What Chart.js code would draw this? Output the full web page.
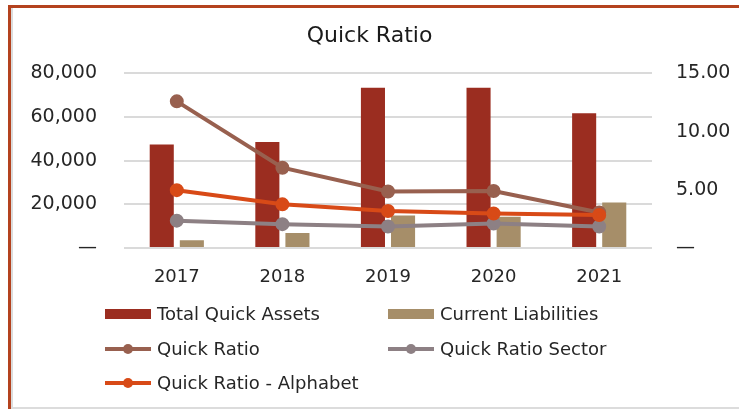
<!DOCTYPE html>
<html>
<head>
<meta charset="utf-8">
<script src="https://cdn.jsdelivr.net/npm/chart.js@4"></script>
<style>
  html, body { margin: 0; padding: 0; background: #fff; }
  #wrap { position: absolute; left: 0; top: 0; width: 739px; height: 409px; }
  .edge { position: absolute; }
</style>
</head>
<body>
<div id="wrap"><canvas id="myChart" width="739" height="409"></canvas></div>
<div class="edge" style="left:8px;top:5px;width:3px;height:404px;background:#B4421E"></div>
<div class="edge" style="left:8px;top:5px;width:731px;height:3px;background:#B4421E"></div>
<div class="edge" style="left:11px;top:8px;width:2px;height:401px;background:#DCDCDC"></div>
<div class="edge" style="left:11px;top:407px;width:728px;height:2px;background:#DCDCDC"></div>
<script>
var years = ["2017", "2018", "2019", "2020", "2021"];
var totalQuickAssets = [47400, 48600, 73400, 73400, 61700];
var currentLiabilities = [3500, 6900, 14900, 14300, 20900];
var quickRatio = [12.6, 6.9, 4.85, 4.9, 3.05];
var quickRatioSector = [2.35, 2.05, 1.85, 2.1, 1.85];
var quickRatioAlphabet = [4.97, 3.75, 3.18, 2.97, 2.83];
var leftTicks = [0, 20000, 40000, 60000, 80000];
var rightTicks = [0, 5, 10, 15];

var fontName = "'DejaVu Sans', sans-serif";
var textColor = "#262626";

// legend drawn in two columns like the original
var legendSlots = [
  { x: 105, y: 314 },
  { x: 388, y: 314 },
  { x: 105, y: 349 },
  { x: 388, y: 349 },
  { x: 105, y: 383 }
];

var gridLegend = {
  id: "gridLegend",
  afterDraw: function (chart) {
    var ctx = chart.ctx;
    ctx.save();
    chart.data.datasets.forEach(function (ds, i) {
      var slot = legendSlots[i];
      if (ds.type === "bar") {
        ctx.fillStyle = ds.backgroundColor;
        ctx.fillRect(slot.x, slot.y - 5, 46, 10);
      } else {
        ctx.strokeStyle = ds.borderColor;
        ctx.lineWidth = 4;
        ctx.beginPath();
        ctx.moveTo(slot.x, slot.y);
        ctx.lineTo(slot.x + 46, slot.y);
        ctx.stroke();
        ctx.fillStyle = ds.borderColor;
        ctx.beginPath();
        ctx.arc(slot.x + 23, slot.y, 5, 0, Math.PI * 2);
        ctx.fill();
      }
      ctx.fillStyle = textColor;
      ctx.font = "18px " + fontName;
      ctx.textBaseline = "middle";
      ctx.textAlign = "left";
      ctx.fillText(ds.label, slot.x + 52, slot.y + 1);
    });
    ctx.restore();
  }
};

var ctx = document.getElementById("myChart");
var myChart = new Chart(ctx, {
  type: "bar",
  data: {
    labels: years,
    datasets: [{
      type: "bar",
      label: "Total Quick Assets",
      data: totalQuickAssets,
      backgroundColor: "#9B2D20",
      yAxisID: "y",
      order: 10
    },
    {
      type: "bar",
      label: "Current Liabilities",
      data: currentLiabilities,
      backgroundColor: "#A68E69",
      yAxisID: "y",
      order: 11
    },
    {
      type: "line",
      label: "Quick Ratio",
      data: quickRatio,
      borderColor: "#98604F",
      backgroundColor: "#98604F",
      borderWidth: 4,
      pointRadius: 5,
      yAxisID: "y1",
      order: 2
    },
    {
      type: "line",
      label: "Quick Ratio Sector",
      data: quickRatioSector,
      borderColor: "#8D8084",
      backgroundColor: "#8D8084",
      borderWidth: 4,
      pointRadius: 5,
      yAxisID: "y1",
      order: 3
    },
    {
      type: "line",
      label: "Quick Ratio - Alphabet",
      data: quickRatioAlphabet,
      borderColor: "#D84A17",
      backgroundColor: "#D84A17",
      borderWidth: 4,
      pointRadius: 5,
      yAxisID: "y1",
      order: 1
    }]
  },
  options: {
    responsive: false,
    animation: false,
    devicePixelRatio: 1,
    layout: { padding: 0 },
    datasets: {
      bar: { categoryPercentage: 0.57, barPercentage: 0.8 }
    },
    elements: { line: { tension: 0 } },
    plugins: {
      legend: { display: false },
      tooltip: { enabled: false },
      title: {
        display: true,
        text: "Quick Ratio",
        color: "#1a1a1a",
        font: { family: fontName, size: 22, weight: "normal" },
        padding: { top: 23, bottom: 24 }
      }
    },
    scales: {
      x: {
        grid: { display: false },
        border: { display: false },
        ticks: {
          color: textColor,
          font: { family: fontName, size: 18 },
          padding: 11
        },
        afterFit: function (scale) { scale.height = 161; }
      },
      y: {
        position: "left",
        min: 0,
        max: 80000,
        afterBuildTicks: function (scale) {
          scale.ticks = leftTicks.map(function (v) { return { value: v }; });
        },
        grid: { color: "#DADADA", lineWidth: 2, drawTicks: false },
        border: { display: false },
        ticks: {
          color: textColor,
          font: { family: fontName, size: 19 },
          padding: 27,
          callback: function (v) { return v === 0 ? "\u2014" : v.toLocaleString("en-US"); }
        },
        afterFit: function (scale) { scale.width = 124; }
      },
      y1: {
        position: "right",
        min: 0,
        max: 15,
        afterBuildTicks: function (scale) {
          scale.ticks = rightTicks.map(function (v) { return { value: v }; });
        },
        grid: { display: false, drawTicks: false },
        border: { display: false },
        ticks: {
          color: textColor,
          font: { family: fontName, size: 19 },
          padding: 24,
          callback: function (v) { return v === 0 ? "\u2014" : v.toFixed(2); }
        },
        afterFit: function (scale) { scale.width = 87; }
      }
    }
  },
  plugins: [gridLegend]
});
</script>
</body>
</html>
